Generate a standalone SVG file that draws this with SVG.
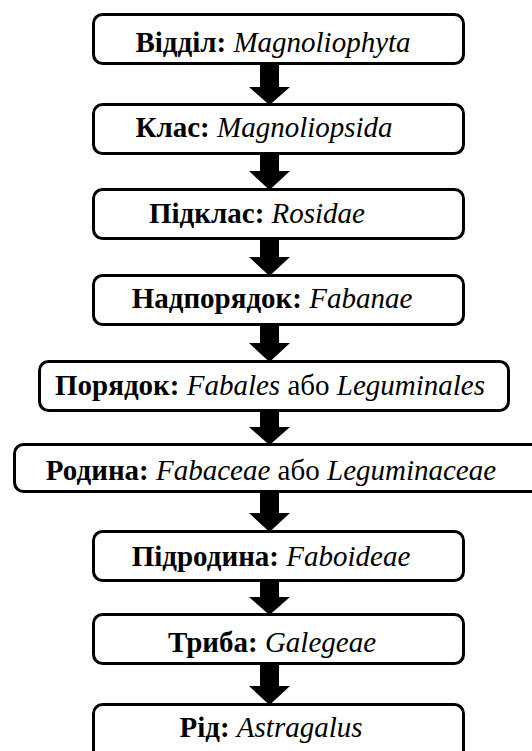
<svg xmlns="http://www.w3.org/2000/svg" width="532" height="751" viewBox="0 0 532 751">
<style>
.box{fill:#fff;stroke:#000;stroke-width:3}
.t{font-family:"Liberation Serif","Times New Roman",serif;font-size:29px;fill:#000;text-anchor:middle}
.b{font-weight:bold}
.i{font-style:italic}
.arr{fill:#000}
</style>
<rect width="532" height="751" fill="#fff"/>
<g id="connectors">
<polygon class="arr" points="260,65 279,65 279,87 290,87 269.5,105 249,87 260,87"/>
<polygon class="arr" points="260,155 279,155 279,171 290,171 269.5,190 249,171 260,171"/>
<polygon class="arr" points="260,240 279,240 279,257 290,257 269.5,276 249,257 260,257"/>
<polygon class="arr" points="260,326 279,326 279,343 290,343 269.5,362 249,343 260,343"/>
<polygon class="arr" points="260,412 279,412 279,427 290,427 269.5,445 249,427 260,427"/>
<polygon class="arr" points="260,493 279,493 279,513 290,513 269.5,532 249,513 260,513"/>
<polygon class="arr" points="260,582 279,582 279,597 290,597 269.5,615 249,597 260,597"/>
<polygon class="arr" points="260,665 279,665 279,686 290,686 269.5,705 249,686 260,686"/>
</g>
<g id="n1"><rect class="box" x="93.5" y="14.5" width="370" height="49" rx="9"/>
<text class="t" x="273" y="52"><tspan class="b">Відділ:</tspan> <tspan class="i">Magnoliophyta</tspan></text></g>
<g id="n2"><rect class="box" x="93.5" y="104.5" width="370" height="49" rx="9"/>
<text class="t" x="264" y="137"><tspan class="b">Клас:</tspan> <tspan class="i">Magnoliopsida</tspan></text></g>
<g id="n3"><rect class="box" x="93.5" y="189.5" width="370" height="49" rx="9"/>
<text class="t" x="257" y="223"><tspan class="b">Підклас:</tspan> <tspan class="i">Rosidae</tspan></text></g>
<g id="n4"><rect class="box" x="93.5" y="275.5" width="370" height="49" rx="9"/>
<text class="t" x="272" y="308"><tspan class="b">Надпорядок:</tspan> <tspan class="i">Fabanae</tspan></text></g>
<g id="n5"><rect class="box" x="39.5" y="361.5" width="469" height="49" rx="9"/>
<text class="t" x="270" y="395"><tspan class="b">Порядок:</tspan> <tspan class="i">Fabales</tspan> або <tspan class="i">Leguminales</tspan></text></g>
<g id="n6"><rect class="box" x="14.5" y="444.5" width="540" height="47" rx="9"/>
<text class="t" x="271" y="480"><tspan class="b">Родина:</tspan> <tspan class="i">Fabaceae</tspan> або <tspan class="i">Leguminaceae</tspan></text></g>
<g id="n7"><rect class="box" x="93.5" y="531.5" width="370" height="49" rx="9"/>
<text class="t" x="271" y="566"><tspan class="b">Підродина:</tspan> <tspan class="i">Faboideae</tspan></text></g>
<g id="n8"><rect class="box" x="93.5" y="614.5" width="370" height="49" rx="9"/>
<text class="t" x="272" y="652"><tspan class="b">Триба:</tspan> <tspan class="i">Galegeae</tspan></text></g>
<g id="n9"><rect class="box" x="93.5" y="704.5" width="370" height="60" rx="9"/>
<text class="t" x="271" y="737"><tspan class="b">Рід:</tspan> <tspan class="i">Astragalus</tspan></text></g>
</svg>
